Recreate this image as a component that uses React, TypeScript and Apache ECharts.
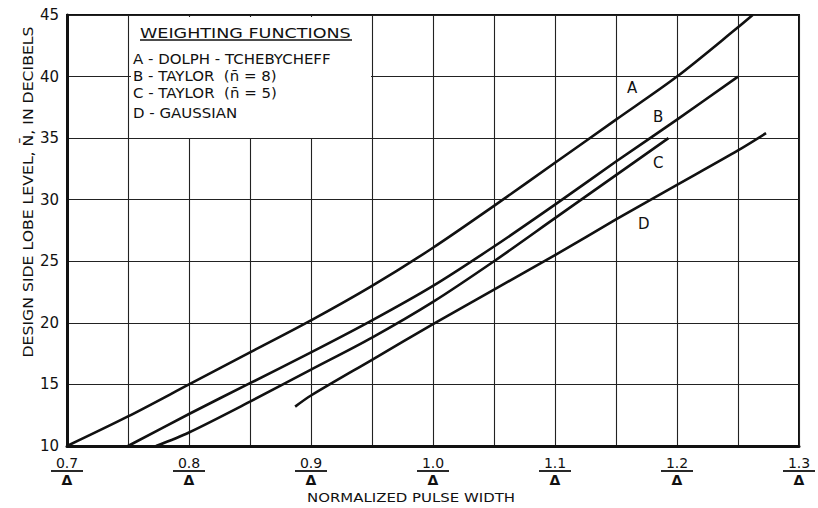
import React, { useEffect, useRef } from "react";
import * as echarts from "echarts";

// Curve A: Dolph-Tchebycheff
const xA = [0.7, 0.75, 0.8, 0.85, 0.9, 0.95, 1.0, 1.05, 1.1, 1.15, 1.2, 1.25, 1.262];
const yA = [10, 12.4, 15.0, 17.6, 20.2, 23.0, 26.1, 29.5, 33.0, 36.5, 40.0, 44.0, 45.0];
// Curve B: Taylor (n=8)
const xB = [0.75, 0.8, 0.85, 0.9, 0.95, 1.0, 1.05, 1.1, 1.15, 1.2, 1.25];
const yB = [10, 12.6, 15.1, 17.6, 20.2, 23.0, 26.2, 29.6, 33.1, 36.5, 40.0];
// Curve C: Taylor (n=5)
const xC = [0.773, 0.8, 0.85, 0.9, 0.95, 1.0, 1.05, 1.1, 1.15, 1.193];
const yC = [10, 11.1, 13.6, 16.2, 18.8, 21.7, 25.0, 28.5, 32.0, 35.0];
// Curve D: Gaussian
const xD = [0.887, 0.9, 0.95, 1.0, 1.05, 1.1, 1.15, 1.2, 1.25, 1.273];
const yD = [13.2, 14.1, 17.0, 19.9, 22.7, 25.5, 28.4, 31.2, 34.0, 35.4];

const curveNames = ["A", "B", "C", "D"];
const legendTitle = "WEIGHTING FUNCTIONS";
const legendLines = [
  "A - DOLPH - TCHEBYCHEFF",
  "B - TAYLOR  (n\u0304 = 8)",
  "C - TAYLOR  (n\u0304 = 5)",
  "D - GAUSSIAN",
];
const xTitle = "NORMALIZED PULSE WIDTH";
const yTitle = "DESIGN SIDE LOBE LEVEL, N\u0304, IN DECIBELS";

const zip = (xs: number[], ys: number[]) => xs.map((x, i) => [x, ys[i]]);

const FONT = "DejaVu Sans";
const INK = "#111";

export default function App() {
  const ref = useRef<HTMLDivElement>(null);
  useEffect(() => {
    document.body.style.margin = "0";
    if (!ref.current) return;
    const chart = echarts.init(ref.current, undefined, { renderer: "svg" });
    const series = [zip(xA, yA), zip(xB, yB), zip(xC, yC), zip(xD, yD)].map((d, i) => ({
      name: curveNames[i],
      type: "line",
      data: d,
      smooth: 0.3,
      symbol: "none",
      lineStyle: { color: INK, width: 2.6, join: "round" },
      z: 3,
    }));
    const labelPos = [
      [627, 80],
      [653, 109],
      [653, 155],
      [638, 216],
    ];
    chart.setOption({
      animation: false,
      backgroundColor: "#fff",
      grid: {
        left: 67,
        right: 15,
        top: 15,
        bottom: 62,
        show: true,
        borderColor: INK,
        borderWidth: 2,
      },
      xAxis: {
        type: "value",
        min: 0.7,
        max: 1.3,
        interval: 0.05,
        axisLine: { show: true, lineStyle: { color: INK, width: 3 } },
        axisTick: { show: false },
        splitLine: { show: true, lineStyle: { color: "#222", width: 1.1 } },
        axisLabel: {
          margin: 10,
          color: INK,
          fontFamily: FONT,
          formatter: (v: number) => {
            const k = Math.round(v * 100);
            if (k % 10 !== 0) return "";
            return `{n|${(k / 100).toFixed(1)}}\n{bar| }\n{d|\u0394}`;
          },
          rich: {
            n: { fontSize: 14, lineHeight: 13, fontFamily: FONT, color: INK },
            bar: { width: 32, height: 1.8, lineHeight: 4, backgroundColor: INK, fontSize: 2 },
            d: { fontSize: 14, lineHeight: 14, fontFamily: FONT, color: INK, fontWeight: "bold" },
          },
        },
      },
      yAxis: {
        type: "value",
        min: 10,
        max: 45,
        interval: 5,
        axisLine: { show: true, lineStyle: { color: INK, width: 3 } },
        axisTick: { show: false },
        splitLine: { show: true, lineStyle: { color: "#222", width: 1.1 } },
        axisLabel: { margin: 8, color: INK, fontFamily: FONT, fontSize: 15 },
      },
      series,
      graphic: [
        {
          type: "rect",
          shape: { x: 131, y: 17, width: 240, height: 121 },
          style: { fill: "#fff" },
          z: 5,
        },
        {
          type: "text",
          x: 140,
          y: 33,
          scaleX: 1.3,
          style: {
            text: legendTitle,
            fontFamily: FONT,
            fontSize: 13.5,
            fill: INK,
            textVerticalAlign: "middle",
          },
          z: 6,
        },
        {
          type: "line",
          shape: { x1: 140, y1: 40, x2: 352, y2: 40 },
          style: { stroke: INK, lineWidth: 1.5 },
          z: 6,
        },
        ...legendLines.map((t, i) => ({
          type: "text",
          x: 133,
          y: [59, 76, 93, 113][i],
          scaleX: 1.07,
          style: {
            text: t,
            fontFamily: FONT,
            fontSize: 14,
            fill: INK,
            textVerticalAlign: "middle",
          },
          z: 6,
        })),
        ...curveNames.map((t, i) => ({
          type: "text",
          x: labelPos[i][0],
          y: labelPos[i][1],
          style: {
            text: t,
            fontFamily: FONT,
            fontSize: 15,
            fill: INK,
          },
          z: 6,
        })),
        {
          type: "text",
          x: 307,
          y: 497,
          scaleX: 1.15,
          style: {
            text: xTitle,
            fontFamily: FONT,
            fontSize: 13,
            fill: INK,
            textVerticalAlign: "middle",
          },
        },
        {
          type: "text",
          x: 28,
          y: 192,
          rotation: Math.PI / 2,
          scaleX: 1.12,
          style: {
            text: yTitle,
            fontFamily: FONT,
            fontSize: 14,
            fill: INK,
            textAlign: "center",
            textVerticalAlign: "middle",
          },
        },
      ],
    });
    return () => chart.dispose();
  }, []);
  return <div ref={ref} style={{ width: 818, height: 508 }} />;
}
